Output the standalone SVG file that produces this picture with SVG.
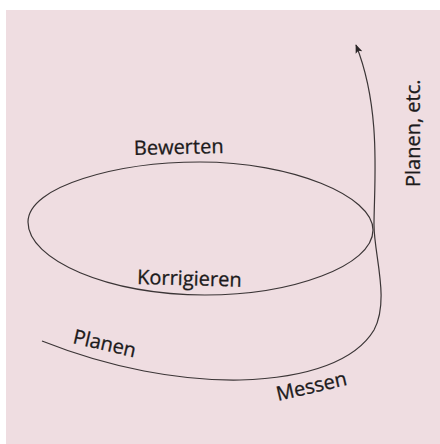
<svg xmlns="http://www.w3.org/2000/svg" width="440" height="444" viewBox="0 0 440 444">
  <defs>
    <style>
      .bg { fill: #efdde1; }
      .line { fill: none; stroke: #3b3536; stroke-width: 1.2; }
      .lbl { font-family: "Open Sans", "Noto Sans", sans-serif; font-size: 20px; fill: #1c1a1b; stroke: #1c1a1b; stroke-width: 0.3; }
    </style>
    <marker id="arrow" viewBox="0 0 10 10" refX="9" refY="5" markerWidth="9" markerHeight="9" markerUnits="userSpaceOnUse" orient="auto">
      <path d="M0,1 L10,5 L0,9 L2,5 Z" fill="#2a2526"/>
    </marker>
  </defs>
  <rect x="0" y="0" width="440" height="444" fill="#ffffff"/>
  <rect class="bg" x="6" y="10" width="434" height="434"/>

  <g id="connectors">
    <path id="loop" class="line" d="M 28 222 C 28 186, 118 162, 200 162 C 292 162, 373 196, 373 230 C 373 266, 292 295, 205 295 C 108 295, 28 260, 28 222 Z"/>
    <path id="path" class="line" marker-end="url(#arrow)" d="M 42 341 C 110 368, 180 381, 240 380 C 310 378, 356 360, 374 330 C 390 300, 374 255, 374 225 C 374 185, 382 110, 356 45"/>
  </g>

  <g id="node-bewerten">
    <text class="lbl" x="134" y="155" transform="rotate(-1.3 134 155)">Bewerten</text>
  </g>
  <g id="node-korrigieren">
    <text class="lbl" x="137" y="284" transform="rotate(1.5 137 284)">Korrigieren</text>
  </g>
  <g id="node-planen">
    <text class="lbl" x="72" y="343" transform="rotate(13 72 343)">Planen</text>
  </g>
  <g id="node-messen">
    <text class="lbl" x="278" y="401" transform="rotate(-13 278 401)">Messen</text>
  </g>
  <g id="node-planen-etc">
    <text class="lbl" x="420" y="187" transform="rotate(-90 420 187)">Planen, etc.</text>
  </g>
</svg>
